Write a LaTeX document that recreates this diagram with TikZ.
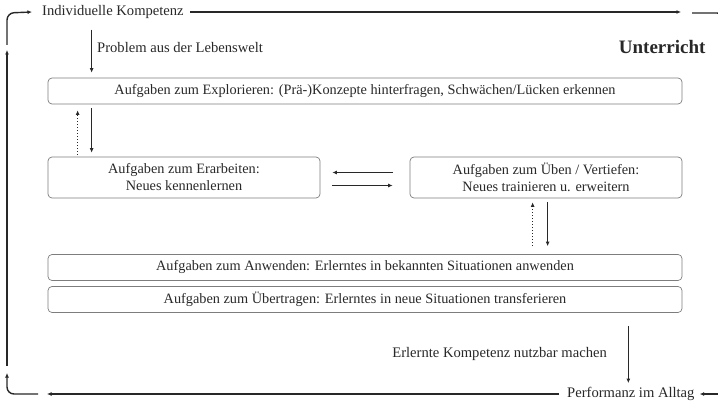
\documentclass[tikz,border=0pt]{standalone}
\usepackage{fontspec}
\setmainfont{Liberation Serif}
\usetikzlibrary{arrows.meta,positioning,calc}
\definecolor{inkgray}{RGB}{40,40,40}
\definecolor{framegray}{RGB}{125,125,125}

\begin{document}
\begin{tikzpicture}[x=1pt, y=-1pt,
  task/.style={draw=framegray, rounded corners=4pt, line width=0.7pt,
    minimum width=634pt, minimum height=26pt, align=center, inner sep=2pt,
    font=\fontsize{14.3}{17}\selectfont, text=inkgray},
  halftask/.style={task, minimum width=272pt, minimum height=41pt},
  plain/.style={font=\fontsize{14.6}{17}\selectfont, text=inkgray, inner sep=2pt},
  arrow/.style={-{Latex[length=4.5pt,width=4pt]}, line width=1.4pt, draw=inkgray},
  dotarrow/.style={arrow, line width=1pt, dotted},
  loopline/.style={line width=1.4pt, draw=inkgray, rounded corners=7pt}
]
\useasboundingbox (0,0) rectangle (718,404);

\node[plain, anchor=west] (komp) at (40,12) {Individuelle Kompetenz};
\node[plain, anchor=west] (problem) at (95,48) {Problem aus der Lebenswelt};
\node[anchor=east, font=\bfseries\fontsize{19}{21}\selectfont, text=inkgray] (unterricht) at (709,47) {Unterricht};

\node[task] (explore) at (365,91) {Aufgaben zum Explorieren: (Prä-)Konzepte hinterfragen, Schwächen/Lücken erkennen};
\node[halftask] (learn) at (184,177.5) {Aufgaben zum Erarbeiten:\\ Neues kennenlernen};
\node[halftask] (practice) at (546,177.5) {Aufgaben zum Üben / Vertiefen:\\ Neues trainieren u. erweitern};
\node[task] (apply) at (365,267.5) {Aufgaben zum Anwenden: Erlerntes in bekannten Situationen anwenden};
\node[task] (transfer) at (365,299.5) {Aufgaben zum Übertragen: Erlerntes in neue Situationen transferieren};

\node[plain, anchor=east] (nutzbar) at (609,354) {Erlernte Kompetenz nutzbar machen};
\node[plain, anchor=west] (perf) at (565,394) {Performanz im Alltag};

% inside the lesson
\draw[arrow] ($(explore.north west)+(44,-48)$) -- ($(explore.north west)+(44,-5)$);
\draw[dotarrow] ($(learn.north west)+(30,-2)$) -- ($(explore.south west)+(30,6)$);
\draw[arrow] ($(explore.south west)+(44,4)$) -- ($(learn.north west)+(44,-4)$);
\draw[arrow] ($(practice.west)+(-17,-5)$) -- ($(learn.east)+(12,-5)$);
\draw[arrow] ($(learn.east)+(12,8)$) -- ($(practice.west)+(-17,8)$);
\draw[dotarrow] ($(apply.north west)+(485,-8)$) -- ($(practice.south west)+(123,4)$);
\draw[arrow] ($(practice.south west)+(138,4)$) -- ($(apply.north west)+(500,-8)$);
\coordinate (usetop) at ($(transfer.south east)+(-54,13)$);
\draw[arrow] (usetop) -- ([yshift=2pt]usetop |- perf.north);

% outer cycle
\coordinate (topend) at (681,12);
\coordinate (botend) at (47,394);
\draw[arrow] ([xshift=4pt]komp.east) -- (topend);
\draw[loopline] (692,13) -- (724,13) -- (724,60);
\draw[arrow] (730,394) -- ([xshift=3pt]perf.east);
\draw[arrow] ([xshift=-6pt]perf.west) -- (botend);
\draw[loopline, -{Latex[length=4.5pt,width=4pt]}] (38,394) -- (7,394) -- (7,373);
\draw[arrow] (7,366) -- (7,50);
\draw[loopline, -{Latex[length=4.5pt,width=4pt]}] (7,45) -- (7,13) -- ([xshift=-8pt]komp.west);
\end{tikzpicture}
\end{document}
